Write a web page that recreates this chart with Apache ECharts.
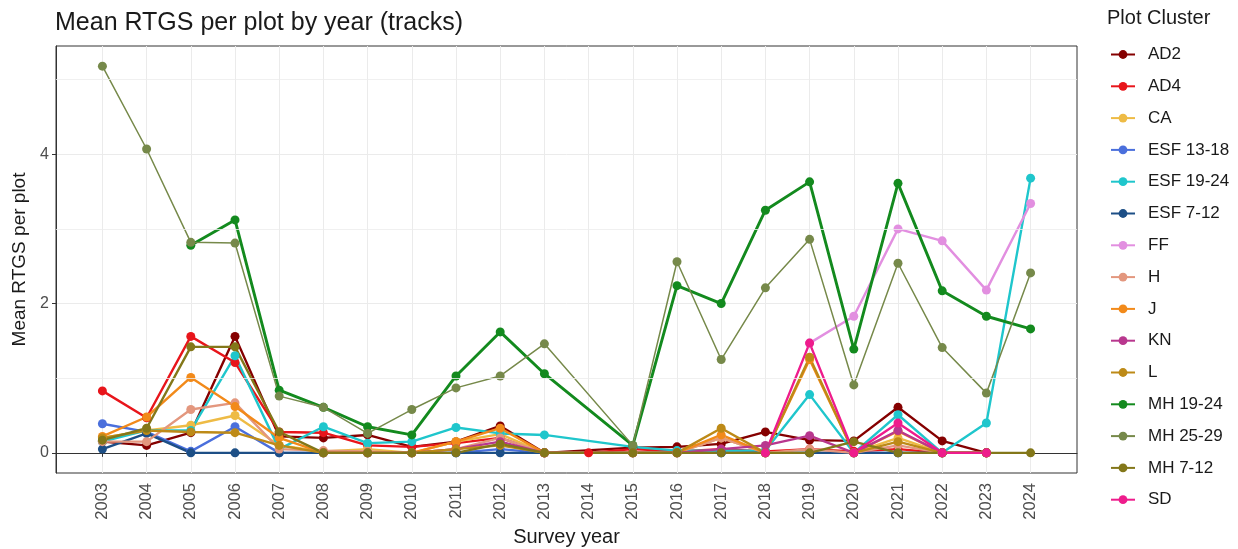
<!DOCTYPE html>
<html>
<head>
<meta charset="utf-8">
<script src="https://cdn.jsdelivr.net/npm/echarts@6/dist/echarts.min.js"></script>
<style>
  html, body { margin: 0; padding: 0; background: #fff; }
  #chart { width: 1238px; height: 549px; }
</style>
</head>
<body>
<div id="chart"></div>
<script>
// Survey years shown on the x axis
const years = [2003, 2004, 2005, 2006, 2007, 2008, 2009, 2010, 2011, 2012, 2013,
               2014, 2015, 2016, 2017, 2018, 2019, 2020, 2021, 2022, 2023, 2024];

// Mean RTGS per plot, one value per survey year (null = cluster not surveyed)
const AD2     = [0.15, 0.10, 0.27, 1.56, 0.22, 0.20, 0.24, 0.08, 0.15, 0.36, 0.00, null, 0.07, 0.08, 0.12, 0.28, 0.17, 0.16, 0.61, 0.16, 0.00, null];
const AD4     = [0.83, 0.47, 1.56, 1.21, 0.28, 0.27, 0.10, 0.08, 0.13, 0.20, 0.00, 0.00, 0.05, 0.02, 0.05, 0.02, 0.05, 0.02, 0.05, 0.00, 0.00, null];
const CA      = [0.20, 0.30, 0.37, 0.50, 0.10, 0.02, 0.05, 0.00, 0.15, 0.25, 0.00, null, 0.00, 0.00, 0.20, 0.00, 0.00, 0.00, 0.20, 0.00, 0.00, null];
const ESF1318 = [0.39, 0.28, 0.02, 0.35, 0.00, 0.00, 0.00, 0.00, 0.00, 0.05, 0.00, null, 0.00, 0.00, 0.00, 0.00, 0.00, 0.00, 0.00, 0.00, 0.00, null];
const ESF1924 = [0.15, 0.30, 0.30, 1.30, 0.05, 0.35, 0.13, 0.15, 0.34, 0.26, 0.24, null, 0.08, 0.03, 0.03, 0.03, 0.78, 0.00, 0.51, 0.00, 0.40, 3.68];
const ESF712  = [0.05, 0.26, 0.00, 0.00, 0.00, 0.00, 0.00, 0.00, 0.00, 0.00, 0.00, null, 0.00, 0.00, 0.00, 0.00, 0.00, 0.00, 0.00, 0.00, 0.00, null];
const FF      = [null, null, null, null, null, null, null, null, null, null, null, null, null, null, null, null, 1.47, 1.83, 3.00, 2.84, 2.18, 3.34];
const H       = [0.15, 0.15, 0.58, 0.67, 0.05, 0.03, 0.02, 0.00, 0.05, 0.20, 0.00, null, 0.00, 0.00, 0.20, 0.00, 0.05, 0.00, 0.10, 0.00, 0.00, null];
const J       = [0.22, 0.48, 1.01, 0.62, 0.20, 0.00, 0.00, 0.00, 0.15, 0.33, 0.00, null, 0.00, 0.00, 0.24, 0.00, 1.25, 0.00, 0.29, 0.00, 0.00, null];
const KN      = [null, null, null, null, null, 0.00, 0.00, 0.00, 0.05, 0.15, 0.00, null, 0.00, 0.00, 0.05, 0.10, 0.23, 0.00, 0.30, 0.00, 0.00, null];
const L       = [0.20, 0.30, 0.28, 0.27, 0.10, 0.00, 0.00, 0.00, 0.05, 0.10, 0.00, null, 0.00, 0.00, 0.33, 0.00, 1.28, 0.00, 0.15, 0.00, 0.00, null];
const MH1924  = [null, null, 2.78, 3.12, 0.84, 0.61, 0.35, 0.24, 1.03, 1.62, 1.06, null, 0.10, 2.24, 2.00, 3.25, 3.63, 1.39, 3.61, 2.17, 1.83, 1.66];
const MH2529  = [5.18, 4.07, 2.82, 2.81, 0.76, 0.61, 0.26, 0.58, 0.87, 1.03, 1.46, null, 0.10, 2.56, 1.25, 2.21, 2.86, 0.91, 2.54, 1.41, 0.80, 2.41];
const MH712   = [0.17, 0.33, 1.42, 1.42, 0.28, 0.00, 0.00, 0.00, 0.00, 0.12, 0.00, null, 0.00, 0.00, 0.00, 0.00, 0.00, 0.15, 0.00, 0.00, 0.00, 0.00];
const SD      = [null, null, null, null, null, null, null, null, null, null, null, null, null, null, null, 0.00, 1.47, 0.00, 0.40, 0.00, 0.00, null];

// Axis breaks
const yLabelTicks = [0, 2, 4];
const yMinorGrid  = [1, 3, 5];

// Cluster name, values, colour, line width
const clusters = [
  ['AD2',       AD2,     '#850000', 2.4],
  ['AD4',       AD4,     '#e8151b', 2.4],
  ['CA',        CA,      '#eebb45', 2.4],
  ['ESF 13-18', ESF1318, '#4a6fdc', 2.4],
  ['ESF 19-24', ESF1924, '#1fc6cc', 2.4],
  ['ESF 7-12',  ESF712,  '#1d4f86', 2.4],
  ['FF',        FF,      '#e28fe0', 2.4],
  ['H',         H,       '#e3977e', 2.4],
  ['J',         J,       '#f28a1a', 2.4],
  ['KN',        KN,      '#b8378e', 2.4],
  ['L',         L,       '#bd8a17', 2.4],
  ['MH 19-24',  MH1924,  '#138a1e', 2.9],
  ['MH 25-29',  MH2529,  '#76894a', 1.5],
  ['MH 7-12',   MH712,   '#837719', 2.4],
  ['SD',        SD,      '#ee1c8c', 2.4]
];

const textFont = 'Liberation Sans, Arial, sans-serif';

const series = clusters.map(([name, vals, color, width]) => ({
  name: name,
  type: 'line',
  data: years.map((yr, i) => vals[i] == null ? null : [yr, vals[i]]).filter(d => d !== null),
  symbol: 'circle',
  symbolSize: 9,
  color: color,
  lineStyle: { width: width, color: color },
  itemStyle: { color: color },
  emphasis: { disabled: true },
  animation: false
}));

// Minor horizontal grid lines between the labelled breaks
series.unshift({
  name: '_grid',
  type: 'line',
  data: [],
  silent: true,
  z: 0,
  markLine: {
    silent: true,
    symbol: 'none',
    label: { show: false },
    lineStyle: { color: '#ececec', width: 0.8, type: 'solid' },
    data: yMinorGrid.map(v => ({ yAxis: v }))
  },
  animation: false
});

const chart = echarts.init(document.getElementById('chart'), null, { renderer: 'canvas' });
chart.setOption({
  backgroundColor: '#ffffff',
  animation: false,
  textStyle: { fontFamily: textFont },
  title: [
    {
      text: 'Mean RTGS per plot by year (tracks)',
      left: 50, top: 6,
      textStyle: { fontFamily: textFont, fontSize: 25, fontWeight: 'normal', color: '#1a1a1a' }
    },
    {
      text: 'Plot Cluster',
      left: 1102, top: 3,
      textStyle: { fontFamily: textFont, fontSize: 20, fontWeight: 'normal', color: '#1a1a1a' }
    }
  ],
  legend: {
    orient: 'vertical',
    left: 1105, top: 41,
    itemWidth: 24, itemHeight: 11, itemGap: 14.8,
    data: clusters.map(c => c[0]),
    textStyle: { fontFamily: textFont, fontSize: 17, color: '#1a1a1a', padding: [0, 0, 0, 8] },
    selectedMode: false
  },
  grid: {
    left: 56, right: 161, top: 46, bottom: 76,
    outerBoundsMode: 'none',
    show: true, borderColor: '#333333', borderWidth: 1, backgroundColor: 'transparent',
    containLabel: false
  },
  xAxis: {
    type: 'value',
    min: 2001.95, max: 2025.05,
    name: 'Survey year',
    nameLocation: 'middle',
    nameGap: 54,
    nameTextStyle: { fontFamily: textFont, fontSize: 20, color: '#1a1a1a' },
    axisLine: { show: true, lineStyle: { color: '#333333', width: 1 } },
    axisTick: { show: true, length: 4, customValues: years, lineStyle: { color: '#333333' } },
    axisLabel: {
      customValues: years, rotate: 90, margin: 10,
      fontFamily: textFont, fontSize: 16.5, color: '#4d4d4d',
      formatter: v => String(v)
    },
    splitLine: { show: true, lineStyle: { color: '#ebebeb', width: 1 } },
    minorSplitLine: { show: false }
  },
  yAxis: {
    type: 'value',
    min: -0.27, max: 5.45,
    name: 'Mean RTGS per plot',
    nameLocation: 'middle',
    nameGap: 17,
    nameRotate: 90,
    nameTextStyle: { fontFamily: textFont, fontSize: 19, color: '#1a1a1a' },
    axisLine: { show: true, lineStyle: { color: '#333333', width: 1 } },
    axisTick: { show: true, length: 4, customValues: yLabelTicks, lineStyle: { color: '#333333' } },
    axisLabel: {
      customValues: yLabelTicks, margin: 7,
      fontFamily: textFont, fontSize: 16, color: '#4d4d4d'
    },
    splitLine: { show: true, lineStyle: { color: '#ebebeb', width: 1 } }
  },
  series: series
});
</script>
</body>
</html>
